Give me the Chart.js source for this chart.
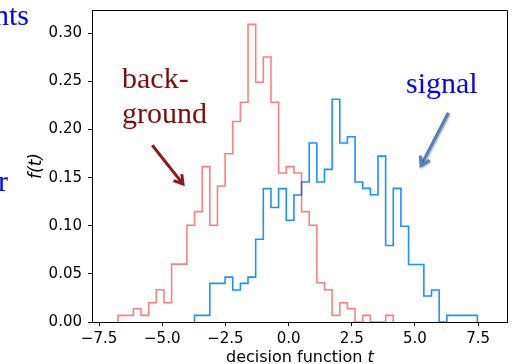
<!DOCTYPE html>
<html>
<head>
<meta charset="utf-8">
<script src="https://cdn.jsdelivr.net/npm/chart.js@4.4.1/dist/chart.umd.min.js"></script>
<style>
  html, body { margin: 0; padding: 0; background: #fff; }
  #wrap { width: 515px; height: 364px; position: relative; }
</style>
</head>
<body>
<div id="wrap"><canvas id="c" width="515" height="364"></canvas></div>
<script>
// ---- data ----
const binEdges = [-6.748, -6.446, -6.143, -5.841, -5.538, -5.236, -4.933, -4.631, -4.328, -4.026,
  -3.723, -3.421, -3.118, -2.816, -2.513, -2.211, -1.908, -1.606, -1.303, -1.001,
  -0.698, -0.396, -0.093, 0.210, 0.512, 0.815, 1.117, 1.420, 1.722, 2.025,
  2.327, 2.630, 2.932, 3.235, 3.537, 3.840, 4.142, 4.445, 4.747, 5.050,
  5.352, 5.655, 5.957, 6.260, 6.562, 6.865, 7.167, 7.470];

const backgroundDensity = [0.0069, 0.0069, 0.0138, 0.0069, 0.0200, 0.0335, 0.0200, 0.0601, 0.0601, 0.1006,
  0.1147, 0.1614, 0.1006, 0.1413, 0.1748, 0.2084, 0.2284, 0.3093, 0.2491, 0.2754,
  0.2284, 0.1548, 0.1614, 0.1548, 0.1147, 0.1006, 0.0408, 0.0335, 0.0069, 0.0200,
  0.0138, 0, 0.0069, 0, 0, 0.0069, 0, 0, 0, 0,
  0, 0, 0, 0, 0, 0, 0];

const signalDensity = [0, 0, 0, 0, 0, 0, 0, 0, 0, 0,
  0.0069, 0.0069, 0.0401, 0.0401, 0.0466, 0.0332, 0.0401, 0.0466, 0.0860, 0.1386,
  0.1189, 0.1386, 0.1057, 0.1320, 0.1455, 0.1860, 0.1455, 0.1586, 0.2315, 0.1860,
  0.1925, 0.1455, 0.1389, 0.1323, 0.1724, 0.0795, 0.1389, 0.0995, 0.0598, 0.0598,
  0.0270, 0.0332, 0, 0.0069, 0.0069, 0.0069, 0.0069];

const xTicks = [-7.5, -5.0, -2.5, 0.0, 2.5, 5.0, 7.5];
const yTicks = [0.00, 0.05, 0.10, 0.15, 0.20, 0.25, 0.30];

const xLabel = 'decision function ';
const xLabelVar = 't';
const yLabel = 'f(t)';
const bgLabel = ['back-', 'ground'];
const sigLabel = 'signal';
const cutTexts = ['nts', 'r'];

// ---- build step outline points from edges + heights ----
function stepPoints(edges, h) {
  let first = h.findIndex(v => v > 0);
  let last = h.length - 1;
  while (last > 0 && h[last] === 0) last--;
  const pts = [{ x: edges[first], y: 0 }];
  for (let k = first; k <= last; k++) pts.push({ x: edges[k], y: h[k] });
  pts.push({ x: edges[last + 1], y: 0 });
  return pts;
}

const xTickFont = { family: 'DejaVu Sans', size: 15 };
const yTickFont = { family: 'DejaVu Sans', size: 15, lineHeight: 0.5 };

const decor = {
  id: 'decor',
  afterDraw(chart) {
    const ctx = chart.ctx;
    const a = chart.chartArea;
    const al = v => Math.round(v - 0.5) + 0.5;
    ctx.save();
    // frame
    ctx.strokeStyle = '#000';
    ctx.lineWidth = 1;
    ctx.beginPath();
    ctx.moveTo(al(a.left), al(a.top));
    ctx.lineTo(al(a.right), al(a.top));
    ctx.lineTo(al(a.right), al(a.bottom));
    ctx.stroke();

    // x axis title with italic variable
    ctx.fillStyle = '#000';
    ctx.textBaseline = 'alphabetic';
    const f1 = '16px "DejaVu Sans"';
    const f2 = 'italic 16px "DejaVu Sans"';
    ctx.font = f1;
    const w1 = ctx.measureText(xLabel).width;
    ctx.font = f2;
    const w2 = ctx.measureText(xLabelVar).width;
    const cx = (a.left + a.right) / 2;
    const x0 = cx - (w1 + w2) / 2;
    ctx.font = f1;
    ctx.textAlign = 'left';
    ctx.fillText(xLabel, x0, 362);
    ctx.font = f2;
    ctx.fillText(xLabelVar, x0 + w1, 362);

    // annotation texts
    ctx.font = '30px "Liberation Serif"';
    ctx.fillStyle = '#7f0c0c';
    ctx.fillText(bgLabel[0], 122, 87.5);
    ctx.fillText(bgLabel[1], 122, 122.5);
    ctx.fillStyle = '#0000ff';
    ctx.fillText(sigLabel, 406, 93);
    ctx.textAlign = 'right';
    ctx.fillText(cutTexts[0], 29, 25);
    ctx.fillText(cutTexts[1], 8, 190.5);

    // arrows
    function arrow(x1, y1, x2, y2, color, shadow) {
      ctx.save();
      if (shadow) {
        ctx.shadowColor = 'rgba(0,0,0,0.35)';
        ctx.shadowBlur = 2;
        ctx.shadowOffsetX = 1;
        ctx.shadowOffsetY = 1;
      }
      ctx.strokeStyle = color;
      ctx.lineWidth = 3;
      ctx.lineCap = 'butt';
      ctx.lineJoin = 'miter';
      const ang = Math.atan2(y2 - y1, x2 - x1);
      const L = 10, sp = 0.55;
      ctx.beginPath();
      ctx.moveTo(x1, y1);
      ctx.lineTo(x2 - Math.cos(ang) * 1.5, y2 - Math.sin(ang) * 1.5);
      ctx.stroke();
      ctx.beginPath();
      ctx.moveTo(x2 - L * Math.cos(ang - sp), y2 - L * Math.sin(ang - sp));
      ctx.lineTo(x2, y2);
      ctx.lineTo(x2 - L * Math.cos(ang + sp), y2 - L * Math.sin(ang + sp));
      ctx.stroke();
      ctx.restore();
    }
    arrow(152.3, 145.3, 183, 184, '#8b1a1a', false);
    arrow(448.3, 112.7, 421, 165.5, '#4f81bd', true);
    ctx.restore();
  }
};

new Chart(document.getElementById('c'), {
  type: 'line',
  data: {
    datasets: [
      {
        label: 'background',
        data: stepPoints(binEdges, backgroundDensity),
        borderColor: 'rgba(255,0,0,0.5)',
        borderWidth: 1.6,
        stepped: true,
        pointRadius: 0,
        fill: false,
        clip: 0
      },
      {
        label: 'signal',
        data: stepPoints(binEdges, signalDensity),
        borderColor: '#1e90ff',
        borderWidth: 1.6,
        stepped: true,
        pointRadius: 0,
        fill: false,
        clip: 0
      }
    ]
  },
  options: {
    responsive: false,
    animation: false,
    devicePixelRatio: 1,
    events: [],
    layout: { padding: { left: 0, right: 7.3, top: 10, bottom: 0 } },
    plugins: { legend: { display: false }, tooltip: { enabled: false } },
    scales: {
      x: {
        type: 'linear',
        min: -7.78,
        max: 8.67,
        z: 1,
        afterBuildTicks: s => { s.ticks = xTicks.map(v => ({ value: v })); },
        afterFit: s => { s.height = 42; },
        ticks: {
          font: xTickFont, color: '#000', padding: 4, maxRotation: 0, autoSkip: false,
          callback: v => (v < 0 ? '\u2212' : '') + Math.abs(v).toFixed(1)
        },
        grid: { drawOnChartArea: false, drawTicks: true, tickLength: 4, color: '#000', lineWidth: 1 },
        border: { display: true, color: '#000', width: 1 }
      },
      y: {
        type: 'linear',
        min: 0,
        max: 0.3242,
        z: 1,
        afterBuildTicks: s => { s.ticks = yTicks.map(v => ({ value: v })); },
        afterFit: s => { s.width = 92; },
        ticks: {
          font: yTickFont, color: '#000', padding: 6, autoSkip: false,
          callback: v => v.toFixed(2)
        },
        grid: { drawOnChartArea: false, drawTicks: true, tickLength: 4, color: '#000', lineWidth: 1 },
        border: { display: true, color: '#000', width: 1 },
        title: {
          display: true,
          text: yLabel,
          color: '#000',
          font: { family: 'DejaVu Sans', size: 17, style: 'italic' },
          padding: { top: 26.3, bottom: 0 }
        }
      }
    }
  },
  plugins: [decor]
});
</script>
</body>
</html>
